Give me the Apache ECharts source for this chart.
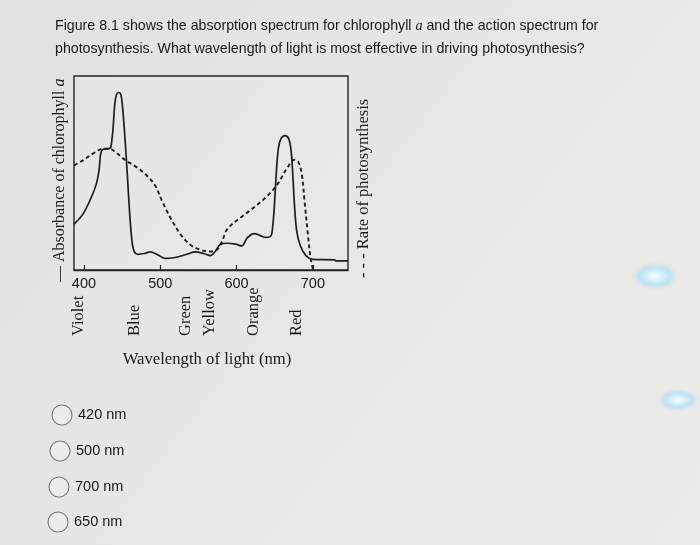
<!DOCTYPE html>
<html>
<head>
<meta charset="utf-8">
<script src="https://cdn.jsdelivr.net/npm/echarts@6/dist/echarts.min.js"></script>
<style>html,body{margin:0;padding:0;background:#e6e5e1;}#c{width:700px;height:545px;}</style>
</head>
<body>
<div id="c"></div>
<script>
// Wavelength tick labels (nm)
var tickValues = [400, 500, 600, 700];
// Colour band labels under the axis and their wavelength positions
var bandNames = ['Violet', 'Blue', 'Green', 'Yellow', 'Orange', 'Red'];
var bandWl = [393, 466, 533, 565, 622, 679];
// Absorbance of chlorophyll a (solid line)
var absWl = [387, 398.7, 409.7, 416.3, 419.8, 422, 425.1, 431.7, 434.8, 436.1, 438.3, 440.5, 442.7, 445.8, 448.4, 450.6, 453.7, 456.8, 459.4, 462.5, 465.6, 471, 480, 486.7, 495.5, 506.5, 517.5, 535, 546, 557, 565.8, 572.4, 579, 587.8, 598.8, 606.7, 614.2, 623, 631.8, 638.4, 645, 647.2, 649.4, 652, 654.7, 658.2, 663.5, 668.3, 671.4, 673.6, 675.8, 678.8, 683.7, 691.2, 700, 728.5, 730, 746];
var absVal = [0.237, 0.288, 0.375, 0.444, 0.513, 0.6, 0.622, 0.625, 0.63, 0.651, 0.737, 0.858, 0.905, 0.915, 0.905, 0.841, 0.685, 0.496, 0.323, 0.167, 0.098, 0.081, 0.086, 0.093, 0.081, 0.06, 0.063, 0.081, 0.093, 0.085, 0.074, 0.098, 0.133, 0.138, 0.133, 0.124, 0.167, 0.188, 0.176, 0.168, 0.176, 0.219, 0.323, 0.496, 0.625, 0.677, 0.693, 0.677, 0.617, 0.496, 0.34, 0.202, 0.124, 0.073, 0.055, 0.052, 0.047, 0.047];
// Rate of photosynthesis (dashed line)
var rateWl = [387, 398.7, 411.9, 425.1, 433.9, 442.7, 453.7, 469.1, 482.3, 493.3, 502.1, 513.1, 526.3, 539.4, 552.6, 565.8, 574.7, 581.2, 587.8, 605.5, 623, 640.6, 653.8, 667, 675.8, 681, 685.4, 689, 693.4, 696.9, 700];
var rateVal = [0.539, 0.565, 0.6, 0.625, 0.625, 0.603, 0.568, 0.53, 0.487, 0.435, 0.358, 0.271, 0.185, 0.13, 0.104, 0.095, 0.105, 0.15, 0.211, 0.271, 0.323, 0.383, 0.444, 0.53, 0.568, 0.556, 0.496, 0.358, 0.185, 0.064, 0.004];
// Answer options
var answers = ['420 nm', '500 nm', '700 nm', '650 nm'];

function zip(a, b) { return a.map(function (v, i) { return [v, b[i]]; }); }

var chart = echarts.init(document.getElementById('c'), null, {renderer: 'canvas'});

var textColor = '#1a1a1a';
var serif = '"Liberation Serif", "DejaVu Serif", serif';
var sans = '"Liberation Sans", Arial, sans-serif';

var graphics = [];
// photo glare spots
function glare(cx, cy, r, sx) {
  graphics.push({
    type: 'circle', silent: true, z: 10,
    x: cx, y: cy, scaleX: sx, scaleY: 1,
    shape: {cx: 0, cy: 0, r: r},
    style: {fill: new echarts.graphic.RadialGradient(0.5, 0.5, 0.5, [
      {offset: 0, color: 'rgba(250,254,255,1)'},
      {offset: 0.3, color: 'rgba(215,240,252,1)'},
      {offset: 0.6, color: 'rgba(185,225,245,0.9)'},
      {offset: 0.8, color: 'rgba(215,228,235,0.6)'},
      {offset: 1, color: 'rgba(230,230,228,0)'}
    ])}
  });
}
glare(655, 276, 15, 1.75);
glare(678, 400, 12.5, 1.8);

// question text
graphics.push({
  type: 'text', left: 55, top: 19,
  style: {
    text: 'Figure 8.1 shows the absorption spectrum for chlorophyll {i|a} and the action spectrum for',
    font: '14.2px ' + sans, fill: textColor,
    rich: {i: {font: 'italic 14.2px ' + serif, fill: textColor}}
  }
});
graphics.push({
  type: 'text', left: 55, top: 42,
  style: {
    text: 'photosynthesis. What wavelength of light is most effective in driving photosynthesis?',
    font: '14.2px ' + sans, fill: textColor
  }
});
// left axis title (rotated)
graphics.push({
  type: 'text', x: 60, y: 282, rotation: Math.PI / 2,
  style: {
    text: '— Absorbance of chlorophyll {i|a}',
    font: '16px ' + serif, fill: textColor, align: 'left', verticalAlign: 'middle',
    rich: {i: {font: 'italic 16px ' + serif, fill: textColor}}
  }
});
// right axis title (rotated)
graphics.push({
  type: 'text', x: 364, y: 278, rotation: Math.PI / 2,
  style: {
    text: '- - - Rate of photosynthesis',
    font: '16.5px ' + serif, fill: textColor, align: 'left', verticalAlign: 'middle'
  }
});
// x axis title
graphics.push({
  type: 'text', x: 207, y: 360,
  style: {
    text: 'Wavelength of light (nm)',
    font: '16.7px ' + serif, fill: textColor, align: 'center', verticalAlign: 'middle'
  }
});
// answer options
var optY = [415, 451, 487, 522];
var optX = [62, 60, 59, 58];
answers.forEach(function (a, i) {
  graphics.push({
    type: 'circle', shape: {cx: optX[i], cy: optY[i], r: 10},
    style: {fill: 'rgba(240,240,238,0.6)', stroke: '#7a7a7a', lineWidth: 1.1}
  });
  graphics.push({
    type: 'text', x: optX[i] + 16, y: optY[i],
    style: {text: a, font: '14.5px ' + sans, fill: textColor, align: 'left', verticalAlign: 'middle'}
  });
});

var option = {
  backgroundColor: new echarts.graphic.LinearGradient(0, 0, 1, 1, [
    {offset: 0, color: '#e2e1dd'},
    {offset: 0.5, color: '#e8e7e4'},
    {offset: 1, color: '#ecebe8'}
  ]),
  animation: false,
  grid: {left: 74, right: 352, top: 76, bottom: 275, show: true, borderColor: '#262626', borderWidth: 1.4, backgroundColor: 'rgba(255,255,255,0.08)'},
  xAxis: {
    type: 'value', min: 387, max: 746,
    axisLine: {show: true, lineStyle: {color: '#262626', width: 1.4}},
    splitLine: {show: false},
    axisTick: {show: true, inside: true, length: 5, customValues: tickValues, lineStyle: {color: '#262626', width: 1.2}},
    axisLabel: {show: true, customValues: tickValues, margin: 6, fontSize: 14.5, fontFamily: sans, color: textColor}
  },
  yAxis: [
    {type: 'value', min: 0, max: 1, show: false},
    {type: 'value', min: 0, max: 1, show: false, position: 'right'}
  ],
  series: [
    {
      name: 'Absorbance of chlorophyll a', type: 'line', yAxisIndex: 0, data: zip(absWl, absVal),
      smooth: 0.35, symbol: 'none', lineStyle: {color: '#1e1e1e', width: 1.7}
    },
    {
      name: 'Rate of photosynthesis', type: 'line', yAxisIndex: 1, data: zip(rateWl, rateVal),
      smooth: 0.35, symbol: 'none', lineStyle: {color: '#1e1e1e', width: 1.9, type: [4, 3]}
    }
  ],
  graphic: graphics
};
chart.setOption(option);

// colour band labels placed via the x axis scale
var bandGraphics = bandNames.map(function (name, i) {
  var px = chart.convertToPixel({xAxisIndex: 0}, bandWl[i]);
  return {
    type: 'text', x: px, y: 336, rotation: Math.PI / 2,
    style: {text: name, font: '16.5px ' + serif, fill: textColor, align: 'left', verticalAlign: 'middle'}
  };
});
chart.setOption({graphic: graphics.concat(bandGraphics)});
</script>
</body>
</html>
